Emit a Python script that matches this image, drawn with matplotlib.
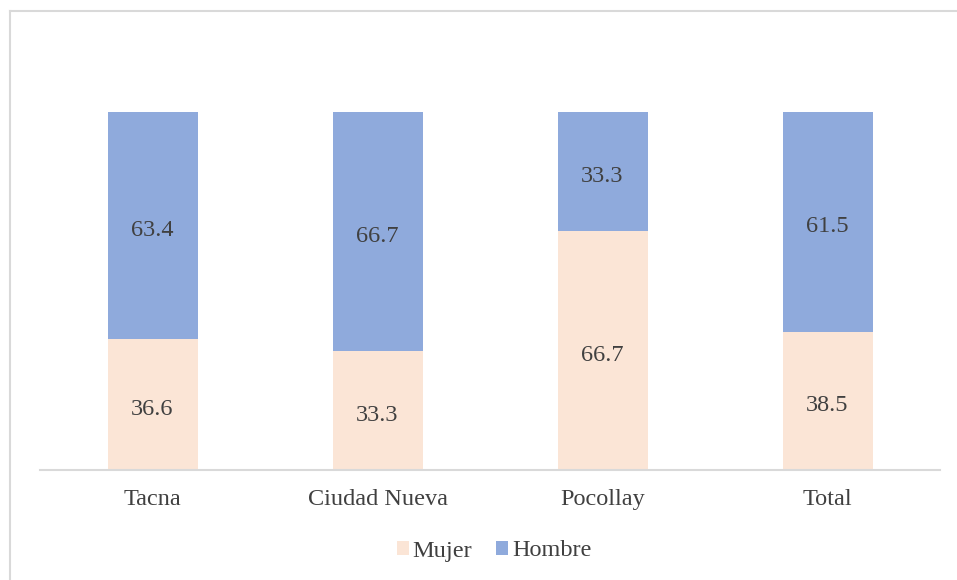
import matplotlib
matplotlib.use("Agg")
import matplotlib.pyplot as plt
from matplotlib.lines import Line2D

categories = ["Tacna", "Ciudad Nueva", "Pocollay", "Total"]
mujer = [36.6, 33.3, 66.7, 38.5]
hombre = [63.4, 66.7, 33.3, 61.5]

plt.rcParams["font.family"] = ["Liberation Serif", "DejaVu Serif"]
text_color = "#404040"
c_mujer = "#FBE5D6"
c_hombre = "#8FAADC"
fs = 17.5

W, H = 957, 580
fig = plt.figure(figsize=(W / 100, H / 100), dpi=100)

# outer chart frame: top and left edges
frame_kw = dict(transform=fig.transFigure, color="#d9d9d9", linewidth=1.5)
fig.lines.append(Line2D([10 / W, 1.0], [1 - 11 / H] * 2, **frame_kw))
fig.lines.append(Line2D([10 / W] * 2, [0.0, 1 - 11 / H], **frame_kw))

ax = fig.add_axes([40 / W, (H - 470) / H, 900 / W, (470 - 112) / H])
x = range(len(categories))
ax.bar(x, mujer, width=0.4, color=c_mujer, label="Mujer")
ax.bar(x, hombre, width=0.4, bottom=mujer, color=c_hombre, label="Hombre")

for i in x:
    for val, y in ((mujer[i], mujer[i] / 2), (hombre[i], mujer[i] + hombre[i] / 2)):
        ax.annotate(f"{val:.1f}", (i, y), xytext=(0, -3.5), textcoords="offset points",
                    ha="center", va="center", fontsize=fs, color=text_color)

ax.set_xlim(-0.5, 3.5)
ax.set_ylim(0, 100)
ax.set_yticks([])
ax.set_xticks(list(x))
ax.set_xticklabels(categories, fontsize=fs, color=text_color)
ax.tick_params(axis="x", length=0, pad=14)
for s in ["top", "right", "left"]:
    ax.spines[s].set_visible(False)
ax.spines["bottom"].set_color("#d9d9d9")
ax.spines["bottom"].set_linewidth(1.5)

leg = fig.legend(loc="center", bbox_to_anchor=(494 / W, (H - 551) / H), ncol=2,
                 frameon=False, fontsize=fs, handlelength=0.5, handleheight=0.5,
                 handletextpad=0.15, columnspacing=1.0)
for t in leg.get_texts():
    t.set_color(text_color)

fig.savefig("out.png", dpi=100)
